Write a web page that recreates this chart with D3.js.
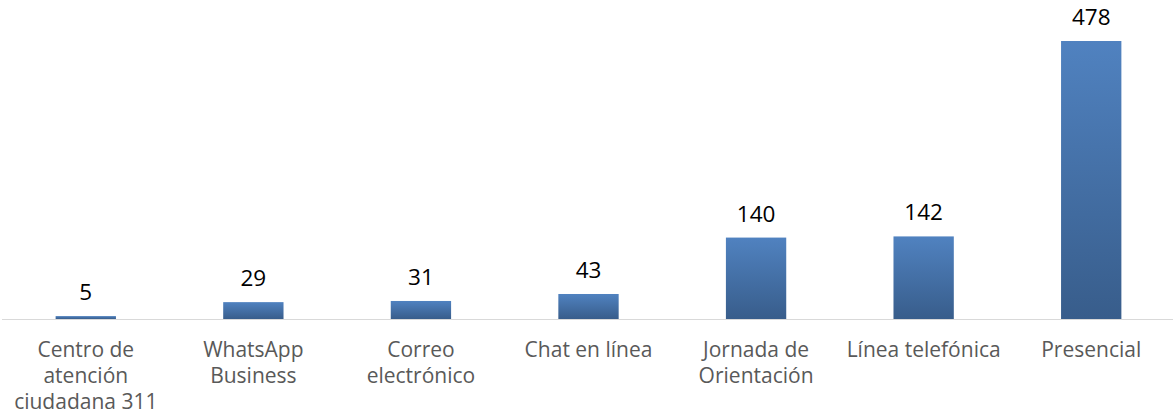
<!DOCTYPE html>
<html lang="es">
  <head>
    <meta charset="UTF-8" />
    <title>Canales de atención</title>
    <script src="https://d3js.org/d3.v7.min.js"></script>
    <style>
      body { margin: 0; background: #fff; }
      text { font-family: "Open Sans", "DejaVu Sans", sans-serif; }
    </style>
  </head>
  <body>
    <svg width="1173" height="409"></svg>
    <script>
      const categories = [
        "Centro de atención ciudadana 311",
        "WhatsApp Business",
        "Correo electrónico",
        "Chat en línea",
        "Jornada de Orientación",
        "Línea telefónica",
        "Presencial"
      ];
      const values = [5, 29, 31, 43, 140, 142, 478];

      const svg = d3.select("svg");
      const baseY = 319;
      const topY = 41;

      const x = d3.scaleBand()
        .domain(categories)
        .range([2, 1175])
        .paddingInner(0.64)
        .paddingOuter(0.32);
      const y = d3.scaleLinear().domain([0, 478]).range([baseY, topY]);

      const grad = svg.append("defs").append("linearGradient")
        .attr("id", "barGrad")
        .attr("x1", 0).attr("y1", 0).attr("x2", 0).attr("y2", 1);
      grad.append("stop").attr("offset", "0%").attr("stop-color", "#5082c0");
      grad.append("stop").attr("offset", "100%").attr("stop-color", "#385d8b");

      svg.selectAll("rect.bar")
        .data(values)
        .join("rect")
        .attr("class", "bar")
        .attr("x", (d, i) => x(categories[i]))
        .attr("width", x.bandwidth())
        .attr("y", d => y(d))
        .attr("height", d => baseY - y(d))
        .attr("fill", "url(#barGrad)");

      // value labels
      svg.selectAll("text.val")
        .data(values)
        .join("text")
        .attr("class", "val")
        .attr("x", (d, i) => x(categories[i]) + x.bandwidth() / 2)
        .attr("y", d => y(d) - 16)
        .attr("text-anchor", "middle")
        .attr("font-size", 22.5)
        .attr("fill", "#000")
        .text(d => d);

      // category axis
      const axis = svg.append("g")
        .attr("transform", "translate(0," + baseY + ")")
        .call(d3.axisBottom(x).tickSize(0).tickPadding(0));
      axis.select(".domain")
        .attr("d", "M2,0.5H1173")
        .attr("stroke", "#d9d9d9")
        .attr("stroke-width", 1.2);

      axis.selectAll(".tick text")
        .attr("font-size", 21)
        .attr("fill", "#595959")
        .attr("font-family", null)
        .attr("y", 0)
        .attr("dy", null)
        .each(function (d) {
          const t = d3.select(this);
          const words = d.split(" ");
          t.text(null);
          const lines = [];
          let cur = [];
          let tsp = t.append("tspan");
          words.forEach(w => {
            cur.push(w);
            tsp.text(cur.join(" "));
            if (tsp.node().getComputedTextLength() > 160 && cur.length > 1) {
              cur.pop();
              lines.push(cur.join(" "));
              cur = [w];
            }
            tsp.text(cur.join(" "));
          });
          lines.push(cur.join(" "));
          t.text(null);
          lines.forEach((ln, i) => {
            t.append("tspan")
              .attr("x", 0)
              .attr("y", 38 + i * 26)
              .text(ln);
          });
        });
    </script>
  </body>
</html>
